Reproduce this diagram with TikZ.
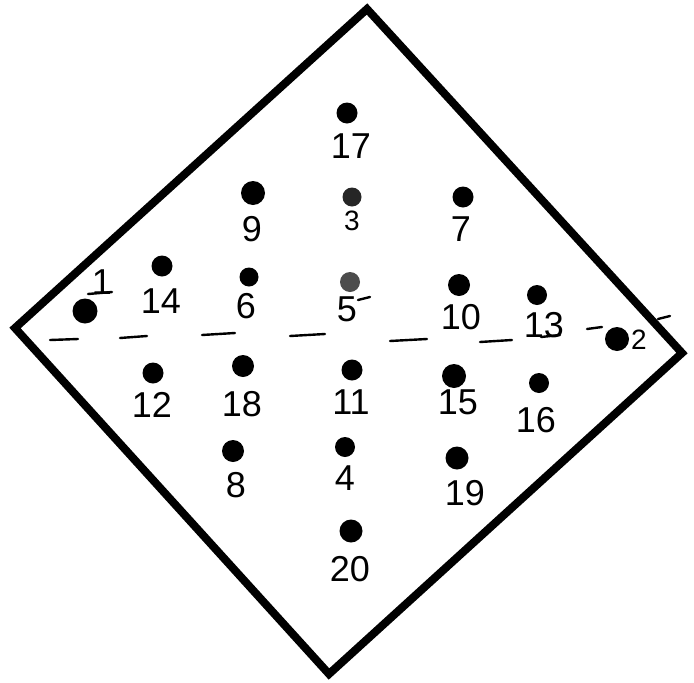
\documentclass[tikz,border=0pt]{standalone}
\usepackage{fontspec}
\setmainfont{Liberation Sans}
\begin{document}
\begin{tikzpicture}[x=1pt,y=-1pt,
  dot/.style={circle,fill=black,draw=none,inner sep=0pt,minimum size=#1},
  lab/.style={inner sep=0pt,font=\fontsize{36}{36}\selectfont},
  slab/.style={inner sep=0pt,font=\fontsize{28}{28}\selectfont},
  frame/.style={line width=8pt,line join=miter},
  dsh/.style={line width=2.4pt,line cap=round}]
\useasboundingbox (0,0) rectangle (694,683);
\fill[white] (0,0) rectangle (694,683);
\draw[frame] (367,9) -- (682,353) -- (329,674) -- (15,328) -- cycle;
% dashed centre line
\draw[dsh] (50,340) -- (78,339);
\draw[dsh] (120,338) -- (147,336);
\draw[dsh] (202,335) -- (235,333);
\draw[dsh] (290,336) -- (325,334);
\draw[dsh] (390,341) -- (427,339);
\draw[dsh] (480,342) -- (512,340);
\draw[dsh] (587,329) -- (602,327);
\draw[dsh] (658,319) -- (670,316);
% small strokes belonging to labels
\draw[dsh] (88,294) -- (112,292);
\draw[dsh] (358,300) -- (370,297);
\draw[dsh] (541,337) -- (560,335);
% dots
\node[dot=21pt] (d17) at (347,113) {};
\node[dot=24pt] (d9) at (253,193) {};
\node[dot=19pt,fill=black!85] (d3) at (352,197) {};
\node[dot=21pt] (d7) at (463,197) {};
\node[dot=21pt] (d14) at (162,266) {};
\node[dot=19pt] (d6) at (249,277) {};
\node[dot=20pt,fill=black!70] (d5) at (350,282) {};
\node[dot=22pt] (d10) at (459,285) {};
\node[dot=20pt] (d13) at (537,295) {};
\node[dot=25pt] (d1) at (85,311) {};
\node[dot=24pt] (d2) at (617,339) {};
\node[dot=21pt] (d12) at (153,373) {};
\node[dot=22pt] (d18) at (243,366) {};
\node[dot=21pt] (d11) at (352,370) {};
\node[dot=24pt] (d15) at (454,376) {};
\node[dot=20pt] (d16) at (539,383) {};
\node[dot=22pt] (d8) at (233,451) {};
\node[dot=20pt] (d4) at (345,447) {};
\node[dot=23pt] (d19) at (457,458) {};
\node[dot=23pt] (d20) at (351,531) {};
% labels
\node[lab] (l17) at (351,146) {17};
\node[lab] (l9) at (252,229) {9};
\node[slab] (l3) at (352,221) {3};
\node[lab] (l7) at (461,229) {7};
\node[lab] (l1) at (102,282) {1};
\node[lab] (l14) at (161,301) {14};
\node[lab] (l6) at (246,306) {6};
\node[lab] (l5) at (347,309) {5};
\node[lab] (l10) at (461,317) {10};
\node[lab] (l13) at (544,325) {13};
\node[slab] (l2) at (639,340) {2};
\node[lab] (l12) at (152,405) {12};
\node[lab] (l18) at (242,404) {18};
\node[lab] (l11) at (351,402) {11};
\node[lab] (l15) at (458,402) {15};
\node[lab] (l16) at (536,420) {16};
\node[lab] (l8) at (236,485) {8};
\node[lab] (l4) at (345,478) {4};
\node[lab] (l19) at (465,493) {19};
\node[lab] (l20) at (350,569) {20};
\end{tikzpicture}
\end{document}
